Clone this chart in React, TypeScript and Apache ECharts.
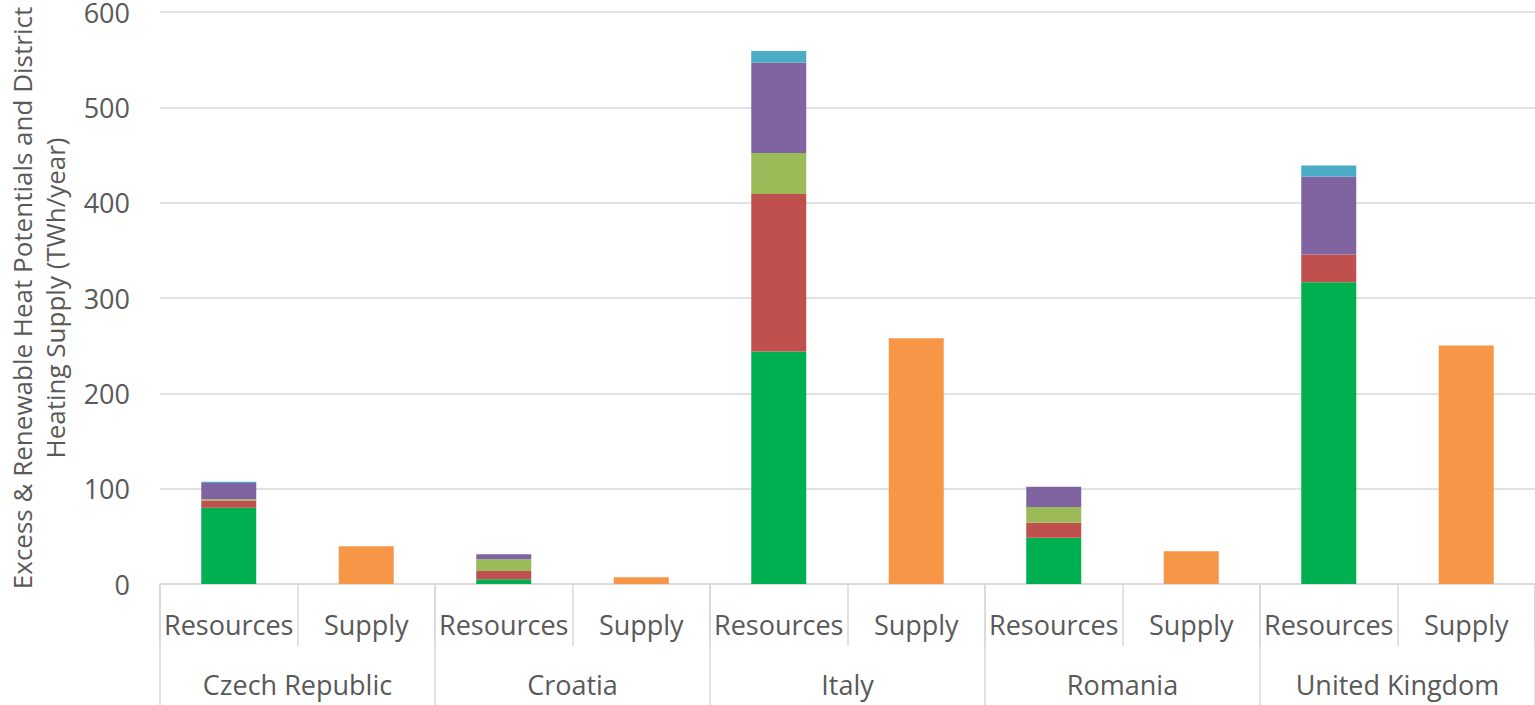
import React, { useEffect, useRef } from "react";
import * as echarts from "echarts";

const countries = ["Czech Republic", "Croatia", "Italy", "Romania", "United Kingdom"];
const subCategories = ["Resources", "Supply"];
const yTicks = [0, 100, 200, 300, 400, 500, 600];

// Resource components per country (TWh/year)
const greenValues = [80, 5, 244, 48.6, 316.5];
const redValues = [7.5, 8.7, 165, 15.7, 29];
const oliveValues = [1.5, 12.3, 43, 16.5, 0];
const purpleValues = [17, 5.3, 95, 21.2, 82];
const cyanValues = [1.3, 0, 12, 0, 11.5];
// District heating supply
const supplyValues = [39.5, 7, 257.7, 34.3, 250.3];

const seriesColors = ["#00b050", "#c0504d", "#9bbb59", "#8064a2", "#4bacc6"];
const supplyColor = "#f79646";

const FONT = "Open Sans";
const TEXT = "#595959";
const LINE = "#d9d9d9";

export default function App() {
  const ref = useRef<HTMLDivElement>(null);
  useEffect(() => {
    if (!ref.current) return;
    const chart = echarts.init(ref.current, null, { renderer: "svg" });
    const cats: string[] = [];
    countries.forEach(() => subCategories.forEach((s) => cats.push(s)));
    const resourceData = (vals: number[]) => {
      const out: (number | string)[] = [];
      vals.forEach((v) => {
        out.push(v);
        out.push("-");
      });
      return out;
    };
    const supplyData: (number | string)[] = [];
    supplyValues.forEach((v) => {
      supplyData.push("-");
      supplyData.push(v);
    });
    const stacks = [greenValues, redValues, oliveValues, purpleValues, cyanValues];
    const series: any[] = stacks.map((vals, i) => ({
      type: "bar",
      stack: "total",
      barWidth: 55,
      data: resourceData(vals),
      itemStyle: { color: seriesColors[i] },
    }));
    series.push({
      type: "bar",
      stack: "total",
      barWidth: 55,
      data: supplyData,
      itemStyle: { color: supplyColor },
    });
    chart.setOption({
      animation: false,
      textStyle: { fontFamily: FONT },
      grid: {
        left: 160,
        right: 0,
        top: 12,
        bottom: 121,
        containLabel: false,
        outerBoundsMode: "none",
      },
      xAxis: [
        {
          type: "category",
          data: cats,
          position: "bottom",
          axisLine: { show: true, lineStyle: { color: LINE, width: 1.5 } },
          axisTick: { show: true, interval: 0, length: 62, lineStyle: { color: LINE, width: 1.5 } },
          axisLabel: { interval: 0, color: TEXT, fontSize: 27, fontFamily: FONT, margin: 27 },
        },
        {
          type: "category",
          data: countries,
          position: "bottom",
          offset: 0,
          axisLine: { show: false },
          axisTick: { show: true, interval: 0, length: 121, lineStyle: { color: LINE, width: 1.5 } },
          axisLabel: { interval: 0, color: TEXT, fontSize: 27, fontFamily: FONT, margin: 87 },
        },
      ],
      yAxis: {
        type: "value",
        min: yTicks[0],
        max: yTicks[yTicks.length - 1],
        interval: 100,
        name: "Excess & Renewable Heat Potentials and District\nHeating Supply (TWh/year)",
        nameLocation: "middle",
        nameRotate: 90,
        nameGap: 89,
        nameTextStyle: { color: TEXT, fontSize: 26, fontFamily: FONT, lineHeight: 33 },
        axisLine: { show: false },
        axisTick: { show: false },
        axisLabel: { color: TEXT, fontSize: 27, fontFamily: FONT, margin: 30 },
        splitLine: { lineStyle: { color: LINE, width: 1.5 } },
      },
      series,
    });
    return () => chart.dispose();
  }, []);
  return (
    <div
      ref={ref}
      style={{ position: "fixed", left: 0, top: 0, width: 1535, height: 705, background: "#fff" }}
    />
  );
}
